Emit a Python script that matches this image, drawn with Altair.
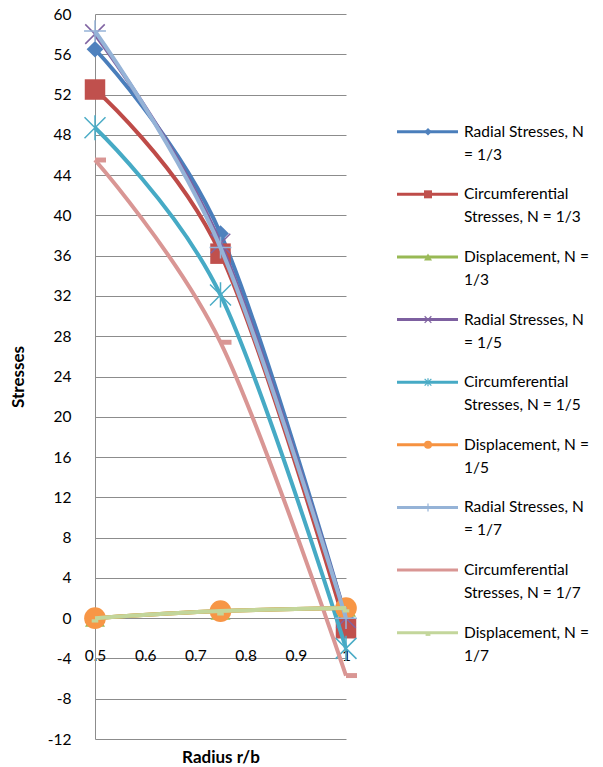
import altair as alt
import pandas as pd

# Radius ratio r/b at which the results were computed
radius = [0.5, 0.75, 1.0]

series_names = [
    "Radial Stresses, N = 1/3",
    "Circumferential Stresses, N = 1/3",
    "Displacement, N = 1/3",
    "Radial Stresses, N = 1/5",
    "Circumferential Stresses, N = 1/5",
    "Displacement, N = 1/5",
    "Radial Stresses, N = 1/7",
    "Circumferential Stresses, N = 1/7",
    "Displacement, N = 1/7",
]

# Legend text, wrapped onto two lines
legend_text = [
    "Radial Stresses, N\n= 1/3",
    "Circumferential\nStresses, N = 1/3",
    "Displacement, N =\n1/3",
    "Radial Stresses, N\n= 1/5",
    "Circumferential\nStresses, N = 1/5",
    "Displacement, N =\n1/5",
    "Radial Stresses, N\n= 1/7",
    "Circumferential\nStresses, N = 1/7",
    "Displacement, N =\n1/7",
]

radial_13 = [56.5, 38.2, 0.0]
circ_13 = [52.5, 36.2, -1.0]
disp_13 = [0.0, 0.7, 1.0]
radial_15 = [58.0, 37.2, 0.0]
circ_15 = [48.7, 32.1, -3.0]
disp_15 = [0.0, 0.7, 1.0]
radial_17 = [58.3, 36.8, 0.0]
circ_17 = [45.5, 27.4, -5.7]
disp_17 = [0.0, 0.7, 1.0]

all_values = [radial_13, circ_13, disp_13, radial_15, circ_15, disp_15,
              radial_17, circ_17, disp_17]

# Styling per series
line_colors = ["#4A7EBB", "#BE4B48", "#98B954", "#7D60A0", "#46AAC5",
               "#F69240", "#95B3D7", "#D99694", "#C3D69B"]
marker_colors = ["#4F81BD", "#C0504D", "#9BBB59", "#8064A2", "#4BACC6",
                 "#F79646", "#95B3D7", "#D99694", "#C3D69B"]
X_PATH = "M-1,-1L1,1M-1,1L1,-1"
STAR_PATH = "M-1,-1L1,1M-1,1L1,-1M0,-1.2L0,1.2"
PLUS_PATH = "M-1,0L1,0M0,-1L0,1"
DASH_PATH = "M0,-0.45L2,-0.45L2,0.45L0,0.45Z"
SHORT_DASH_PATH = "M-0.6,0.2L0.6,0.2L0.6,0.8L-0.6,0.8Z"
marker_shapes = ["diamond", "square", "triangle-up", X_PATH, STAR_PATH,
                 "circle", PLUS_PATH, DASH_PATH, SHORT_DASH_PATH]
marker_filled = [True, True, True, False, False, True, False, True, True]
marker_sizes = [280, 420, 400, 380, 440, 470, 480, 121, 121]
legend_sizes = [55, 64, 64, 45, 45, 64, 64, 0, 64]

rows = []
for name, vals in zip(series_names, all_values):
    for r, v in zip(radius, vals):
        rows.append({"series": name, "radius": r, "value": v})
df = pd.DataFrame(rows)

FONT = "Lato"
GRID = "#8C8C8C"
NO_FRAME = alt.ViewConfig(stroke="transparent", strokeWidth=0, strokeOpacity=0)

x_enc = alt.X(
    "radius:Q",
    title="Radius r/b",
    scale=alt.Scale(domain=[0.5, 1.0], nice=False, zero=False),
    axis=alt.Axis(
        values=[0.5, 0.6, 0.7, 0.8, 0.9, 1.0],
        format="~g",
        grid=False,
        domain=False,
        ticks=False,
        tickSize=0,
        offset=-121,
        labelPadding=30,
        labelFlush=False,
        labelFont=FONT,
        labelFontSize=15.5,
        labelColor="#000000",
        titleFont=FONT,
        titleFontSize=17,
        titleFontWeight="bold",
        titleColor="#000000",
        titlePadding=86,
    ),
)
y_enc = alt.Y(
    "value:Q",
    title="Stresses",
    scale=alt.Scale(domain=[-12, 60], nice=False, zero=False),
    axis=alt.Axis(
        values=list(range(-12, 61, 4)),
        labelExpr="'' + datum.value",
        grid=True,
        gridColor=GRID,
        gridWidth=1,
        domain=True,
        domainColor=GRID,
        domainWidth=1,
        ticks=False,
        tickSize=0,
        labelPadding=24,
        labelFont=FONT,
        labelFontSize=15.5,
        labelColor="#000000",
        titleFont=FONT,
        titleFontSize=17,
        titleFontWeight="bold",
        titleColor="#000000",
        titlePadding=20,
    ),
)

base = alt.Chart(df)
layers = []
for i, name in enumerate(series_names):
    sub = base.transform_filter(alt.datum.series == name)
    layers.append(
        sub.mark_line(interpolate="cardinal", strokeWidth=4,
                      color=line_colors[i]).encode(x=x_enc, y=y_enc)
    )
    if marker_filled[i]:
        pt = sub.mark_point(shape=marker_shapes[i], size=marker_sizes[i],
                            filled=True, fill=marker_colors[i],
                            opacity=1, strokeWidth=0)
    else:
        pt = sub.mark_point(shape=marker_shapes[i], size=marker_sizes[i],
                            filled=False, stroke=marker_colors[i],
                            opacity=1, strokeWidth=1.5)
    layers.append(pt.encode(x=x_enc, y=y_enc))

main = alt.layer(*layers).properties(width=251, height=725, view=NO_FRAME)

# Legend panel
leg_df = pd.DataFrame({"series": series_names, "label": legend_text})
leg_y = alt.Y(
    "series:N",
    sort=series_names,
    scale=alt.Scale(type="point", domain=series_names,
                    range=[117.7, 618.7], padding=0),
    axis=None,
)
leg_base = alt.Chart(leg_df)
leg_layers = []
for i, name in enumerate(series_names):
    sub = leg_base.transform_filter(alt.datum.series == name)
    leg_layers.append(
        sub.mark_rule(strokeWidth=3, color=line_colors[i]).encode(
            x=alt.value(0), x2=alt.value(61), y=leg_y)
    )
    if legend_sizes[i] > 0:
        if marker_filled[i]:
            pt = sub.mark_point(shape=marker_shapes[i], size=legend_sizes[i],
                                filled=True, fill=marker_colors[i],
                                opacity=1, strokeWidth=0)
        else:
            pt = sub.mark_point(shape=marker_shapes[i], size=legend_sizes[i],
                                filled=False, stroke=marker_colors[i],
                                opacity=1, strokeWidth=1.2)
        leg_layers.append(pt.encode(x=alt.value(31), y=leg_y))

leg_layers.append(
    leg_base.mark_text(align="left", baseline="middle", lineBreak="\n",
                       lineHeight=23, dy=0, font=FONT, fontSize=15.5,
                       color="#000000").encode(
        x=alt.value(67), y=leg_y, text="label:N")
)
legend = alt.layer(*leg_layers).properties(width=205, height=725, view=NO_FRAME)

chart = (
    alt.hconcat(main, legend, spacing=51, bounds="flush")
    .properties(padding={"left": 9, "top": 7, "right": 0, "bottom": 0})
    .configure_view(stroke="transparent", strokeWidth=0)
    .configure(font=FONT)
)

chart.save("out.html", embed_options={"renderer": "svg", "actions": False})
